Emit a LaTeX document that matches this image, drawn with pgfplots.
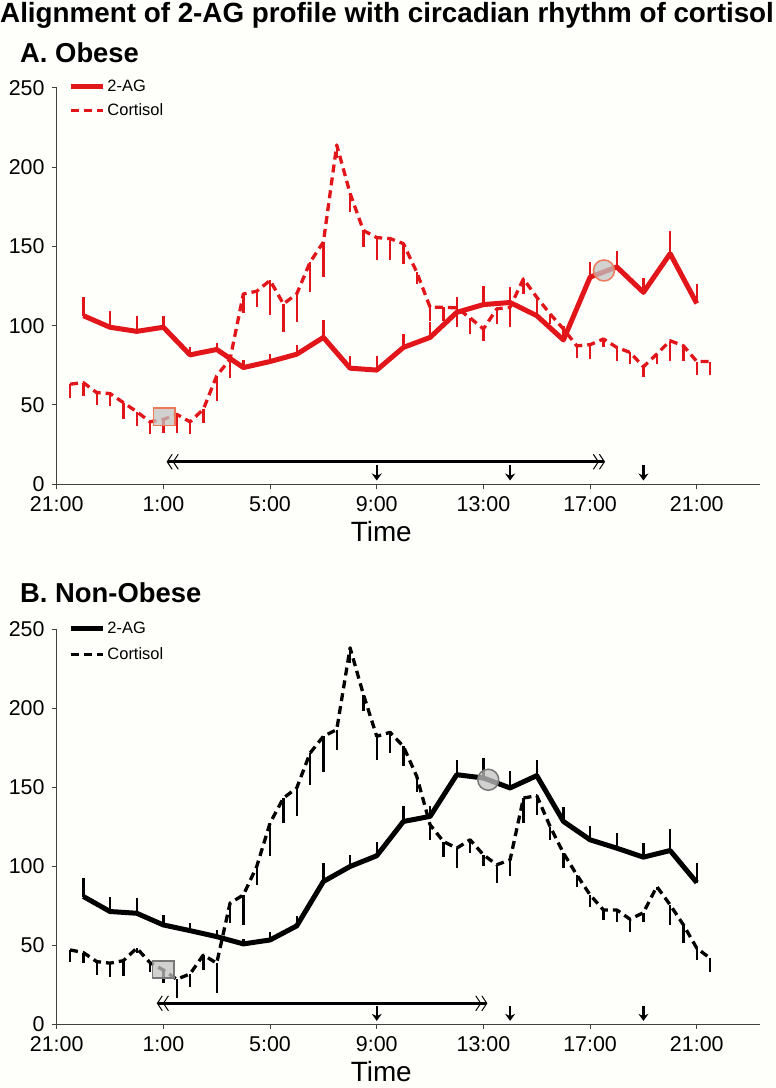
\documentclass[border=0pt]{standalone}
\usepackage{fontspec}
\setmainfont{Liberation Sans}
\usepackage{pgfplots}
\usepackage{pgfplotstable}
\pgfplotsset{compat=1.18}
\usetikzlibrary{arrows.meta}

\definecolor{obred}{RGB}{226,22,26}
\definecolor{bgc}{RGB}{254,254,250}
\definecolor{salmon}{RGB}{238,120,90}
\definecolor{mkfill}{RGB}{195,195,195}
\definecolor{mkgray}{RGB}{120,120,120}

% Obese 2-AG (hours after 21:00, value, +SEM)
\pgfplotstableread{
h v e
1 106.3 12
2 99 10
3 96.4 9.6
4 99 7
5 81.6 5
6 85 4
7 73.6 5
8 77.4 5
9 82 6
10 92.6 11
11 73.2 7.5
12 72 8.8
13 86.3 8.4
14 92.6 9.5
15 108.4 9.6
16 113.3 12
17 114.6 10
18 106.3 12
19 91 9
20 130.6 9.5
21 137 10
22 121 9
23 145.4 14
24 114 12
}\aagA

% Obese cortisol
\pgfplotstableread{
h v e
0.5 63.1 8.4
1 64.1 8.4
1.5 57.8 7.8
2 57.2 7.8
2.5 51.5 10.5
3 45.8 9
3.5 39.4 8
4 40.9 8.4
4.5 44.1 12
5 39.4 8
5.5 47.3 8.4
6 68.4 15.8
6.5 78.9 11.6
7 120 12
7.5 121.7 10
8 128.5 22
8.5 113.7 18
9 120 18
9.5 140 19
10 152.7 22
10.5 213.9 8
11 183.4 11.6
11.5 160 10.5
12 155.5 14.3
12.5 154.9 13.7
13 151.7 12.6
13.5 133.7 7.4
14 111.6 8.4
14.5 111.6 8.4
15 111.2 12
15.5 104.9 10
16 97.9 7.8
16.5 110.6 9.5
17 111.6 12.6
17.5 129.5 9.5
18 117.9 8.4
18.5 107.4 6.3
19 97.9 3
19.5 87.3 7.4
20 88 9
20.5 91.6 5
21 86.3 8.8
21.5 83.1 7.4
22 74.1 6.7
22.5 82.1 6.3
23 90.5 13
23.5 87.3 9.5
24 77.4 8.4
24.5 77.4 8.4
}\cortA

% Non-obese 2-AG
\pgfplotstableread{
h v e
1 80.7 11.6
2 71.2 9.5
3 70.1 9.6
4 62.7 6.3
5 59.1 5
6 55.3 4
7 50.7 3
8 53.2 5.3
9 62.1 6
10 90.2 11.6
11 99.7 7.3
12 106.5 8.4
13 128.2 9.5
14 131.4 6.3
15 157.8 9.5
16 155.7 12.7
17 149.4 10.5
18 157.2 10.1
19 128.2 9.1
20 116.6 8.9
21 111.3 9.5
22 105.6 8.9
23 109.8 13.6
24 89.5 12.3
}\aagB

% Non-obese cortisol
\pgfplotstableread{
h v e
0.5 46.9 7.4
1 45.2 6.8
1.5 39.5 8.4
2 38.5 8.9
2.5 40.1 10
3 48 3
3.5 38.8 5.7
4 34.2 8.4
4.5 28.3 12
5 31.7 8
5.5 43.7 9.5
6 38.5 19
6.5 76.5 12.7
7 81.7 19
7.5 99.7 11.6
8 127.2 21
8.5 143 15.8
9 149.4 18
9.5 171.5 20
10 182.1 22.8
10.5 186.3 12.7
11 238.1 9.5
11.5 208.5 10.5
12 182.1 14.8
12.5 184.6 13
13 175.7 12.7
13.5 156.7 10
14 126.1 9.5
14.5 115.5 9.5
15 111.3 12.7
15.5 116.6 8.4
16 107.1 7.4
16.5 100.8 11.6
17 103.9 10.5
17.5 143 15.8
18 144.5 12
18.5 125 8.4
19 108.2 9.5
19.5 94.4 7.4
20 81.7 7.4
20.5 72.2 6.3
21 72.2 7.4
21.5 66.3 7.8
22 70.5 5.7
22.5 87 2
23 75.4 12.7
23.5 62.7 11.6
24 48 7.4
24.5 41.6 8.4
}\cortB

\pgfplotsset{
 panel/.style={
  scale only axis, width=703.3bp,
  xmin=0, xmax=26.37, ymin=0, ymax=250,
  axis lines=left, axis line style={-, draw=black!75, line width=1bp},
  tick align=outside, major tick length=5bp,
  tick style={draw=black!75, line width=1bp},
  xtick={0,4,8,12,16,20,24},
  xticklabels={21:00,1:00,5:00,9:00,13:00,17:00,21:00},
  ytick={0,50,100,150,200,250},
  /pgf/number format/assume math mode=true,
  ticklabel style={font=\fontsize{21.5}{21.5}\selectfont, inner sep=0pt},
  xticklabel style={yshift=-7bp},
  yticklabel style={xshift=-7bp},
  xlabel={Time},
  x label style={at={(rel axis cs:0.4615,0)}, anchor=north, yshift=-37bp,
    font=\fontsize{28}{28}\selectfont, inner sep=0pt},
  clip=false,
  legend cell align=left,
  legend style={draw=none, fill=none, font=\fontsize{16.5}{16.5}\selectfont,
    inner sep=0pt, at={(axis cs:0.45,256)}, anchor=north west},
  legend image code/.code={\draw[##1] (0bp,0bp) -- (31.6bp,0bp);},
 },
 aag/.style={line width=5bp, line join=round,
   error bars/y dir=plus, error bars/y explicit, error bars/error mark=none,
   error bars/error bar style={line width=2.4bp, solid}},
 cort/.style={line width=3.3bp, dash pattern=on 8bp off 5bp, line join=round,
   error bars/y dir=minus, error bars/y explicit, error bars/error mark=none,
   error bars/error bar style={line width=2.4bp, solid}},
 dblarrow/.style={line width=3bp,
   {Straight Barb[length=5bp,width=15bp,line width=1bp]Straight Barb[length=5bp,width=15bp,line width=1bp]}-{Straight Barb[length=5bp,width=15bp,line width=1bp]Straight Barb[length=5bp,width=15bp,line width=1bp]}},
 downarrow/.style={line width=2.3bp, -{Stealth[length=7bp,width=10bp]}},
}

\begin{document}
\begin{tikzpicture}
\path[use as bounding box, fill=bgc] (0,0) rectangle (776bp,-1088bp);

\node[anchor=base west, inner sep=0pt, font=\bfseries\fontsize{27.9}{27.9}\selectfont]
  at (0bp,-22bp) {Alignment of 2-AG profile with circadian rhythm of cortisol};
\node[anchor=base west, inner sep=0pt, font=\bfseries\fontsize{27.5}{27.5}\selectfont]
  at (20bp,-62bp) {A. Obese};
\node[anchor=base west, inner sep=0pt, font=\bfseries\fontsize{27.5}{27.5}\selectfont]
  at (20bp,-602bp) {B. Non-Obese};

% ---------- A. Obese ----------
\begin{axis}[panel, height=396.6bp, at={(56.7bp,-484.3bp)}, anchor=south west,
  legend style={row sep=6.5bp}]
\addplot[obred, aag] table[x=h, y=v, y error=e] {\aagA};
\addlegendentry{2-AG}
\addplot[obred, cort] table[x=h, y=v, y error=e] {\cortA};
\addlegendentry{Cortisol}
\addplot[forget plot, only marks, mark=square*, mark size=9bp,
  mark options={draw=salmon, fill=mkfill, fill opacity=0.75, line width=1.5bp, xscale=1.2, yscale=0.95}]
  coordinates {(4.03,42.6)};
\addplot[forget plot, only marks, mark=*, mark size=10.5bp,
  mark options={draw=salmon, fill=mkfill, fill opacity=0.75, line width=1.5bp}]
  coordinates {(20.52,134.8)};
\addplot[forget plot, black, dblarrow] coordinates {(4.12,14.2) (20.56,14.2)};
\addplot[forget plot, black, downarrow] coordinates {(12,12.4) (12,2.4)};
\addplot[forget plot, black, downarrow] coordinates {(17,12.4) (17,2.4)};
\addplot[forget plot, black, downarrow] coordinates {(22,12.4) (22,2.4)};
\end{axis}

% ---------- B. Non-Obese ----------
\begin{axis}[panel, height=395bp, at={(56.7bp,-1024bp)}, anchor=south west,
  legend style={row sep=9bp}]
\addplot[black, aag] table[x=h, y=v, y error=e] {\aagB};
\addlegendentry{2-AG}
\addplot[black, cort] table[x=h, y=v, y error=e] {\cortB};
\addlegendentry{Cortisol}
\addplot[forget plot, only marks, mark=square*, mark size=9bp,
  mark options={draw=mkgray, fill=mkfill, fill opacity=0.75, line width=1.5bp, xscale=1.2, yscale=0.95}]
  coordinates {(4.0,34.5)};
\addplot[forget plot, only marks, mark=*, mark size=10.5bp,
  mark options={draw=mkgray, fill=mkfill, fill opacity=0.75, line width=1.5bp}]
  coordinates {(16.18,154.6)};
\addplot[forget plot, black, dblarrow] coordinates {(3.75,13.1) (16.15,13.1)};
\addplot[forget plot, black, downarrow] coordinates {(12,11.2) (12,2.0)};
\addplot[forget plot, black, downarrow] coordinates {(17,11.2) (17,2.0)};
\addplot[forget plot, black, downarrow] coordinates {(22,11.2) (22,2.0)};
\end{axis}
\end{tikzpicture}
\end{document}
